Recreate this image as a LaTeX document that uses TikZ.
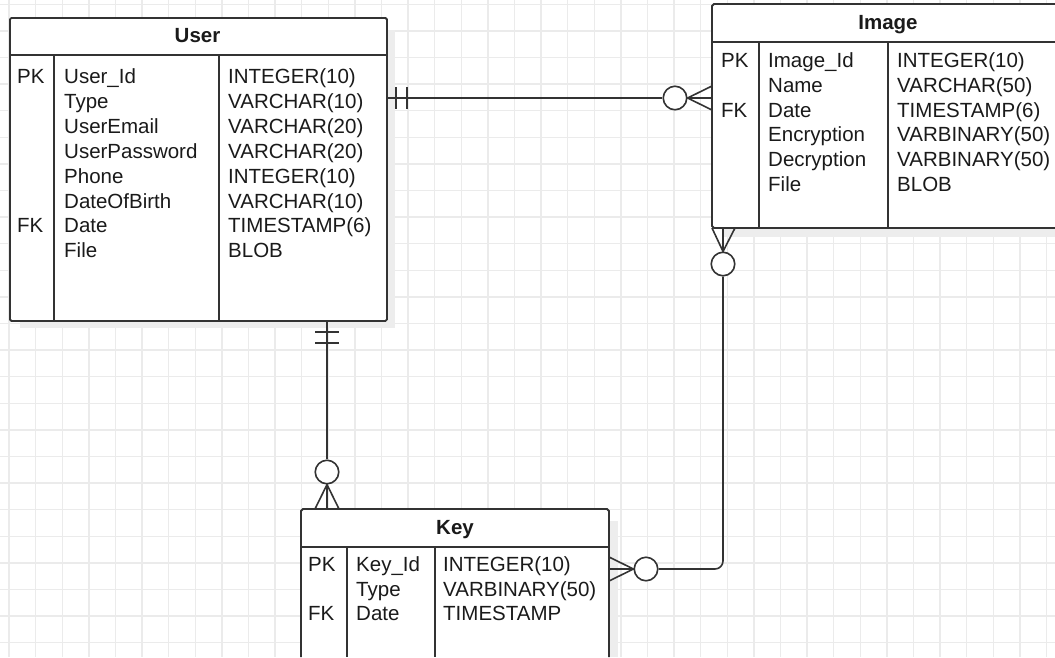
\documentclass[tikz,border=0pt]{standalone}
\usepackage{fontspec}
\setmainfont{Liberation Sans}
\definecolor{gridc}{HTML}{EBEBEB}
\definecolor{linec}{HTML}{333333}
\definecolor{txtc}{HTML}{1A1A1A}
\definecolor{shadowc}{HTML}{EDEDED}
\begin{document}
\begin{tikzpicture}[x=1pt,y=-1pt,
  gridl/.style={draw=gridc, line width=1.4pt},
  tbl/.style={draw=linec, line width=1.8pt, fill=white, rounded corners=1.5pt, inner sep=0pt, anchor=north west},
  tline/.style={draw=linec, line width=1.8pt},
  conn/.style={draw=linec, line width=1.6pt},
  ring/.style={circle, draw=linec, line width=1.6pt, fill=white, inner sep=0pt, minimum size=23.5pt},
  shadowfill/.style={fill=shadowc, draw=none},
  txt/.style={anchor=base west, inner sep=0pt, text=txtc, font=\fontsize{20.5}{24}\selectfont},
  ttl/.style={anchor=base, inner sep=0pt, text=txtc, font=\fontsize{20.5}{24}\selectfont\bfseries}]
\useasboundingbox[fill=white] (0,0) rectangle (1055,657);
% grid
\foreach \gi in {0,...,39} \draw[gridl] ({9+26.6*\gi},0) -- ({9+26.6*\gi},657);
\foreach \gj in {0,...,24} \draw[gridl] (0,{4.2+26.6*\gj}) -- (1055,{4.2+26.6*\gj});
% shadows
\fill[shadowfill] (20,30) rectangle (395,328);
\fill[shadowfill] (723,17) rectangle (1055,237);
\fill[shadowfill] (312,521) rectangle (618,657);
% ---------------- User table
\node[tbl, minimum width=377pt, minimum height=303pt] (user) at (9,17) {};
\draw[tline] (9,55) -- (386,55);
\draw[tline] (54,55) -- (54,320);
\draw[tline] (219,55) -- (219,320);
\node[ttl] (usert) at (197.5,42.5) {User};
\foreach \ka/\na/\ta [count=\ri] in {PK/User\_Id/INTEGER(10), /Type/VARCHAR(10), /UserEmail/VARCHAR(20), /UserPassword/VARCHAR(20), /Phone/INTEGER(10), /DateOfBirth/VARCHAR(10), FK/Date/TIMESTAMP(6), /File/BLOB}{
  \node[txt] (uk\ri) at (17,{83.5+24.9*(\ri-1)}) {\ka};
  \node[txt] (un\ri) at (64,{83.5+24.9*(\ri-1)}) {\na};
  \node[txt] (ut\ri) at (228,{83.5+24.9*(\ri-1)}) {\ta};
}
% ---------------- Image table (runs past the right edge)
\fill[white] (712,4) rectangle (1055,228);
\draw[tline] (1055,4) -- (714,4) -- (712,6) -- (712,226) -- (714,228) -- (1055,228);
\coordinate (imgw) at (712,116);
\coordinate (imgs) at (888,228);
\draw[tline] (712,42) -- (1055,42);
\draw[tline] (759,42) -- (759,228);
\draw[tline] (888,42) -- (888,228);
\node[ttl] (imgt) at (888,29.5) {Image};
\foreach \ka/\na/\ta [count=\ri] in {PK/Image\_Id/INTEGER(10), /Name/VARCHAR(50), FK/Date/TIMESTAMP(6), /Encryption/VARBINARY(50), /Decryption/VARBINARY(50), /File/BLOB}{
  \node[txt] (ik\ri) at (721,{67.5+24.8*(\ri-1)}) {\ka};
  \node[txt] (in\ri) at (768,{67.5+24.8*(\ri-1)}) {\na};
  \node[txt] (it\ri) at (897,{67.5+24.8*(\ri-1)}) {\ta};
}
% ---------------- Key table (runs past the bottom edge)
\fill[white] (301,509) rectangle (609,657);
\draw[tline] (301,657) -- (301,511) -- (303,509) -- (607,509) -- (609,511) -- (609,657);
\coordinate (keyn) at (455,509);
\coordinate (keye) at (609,583);
\draw[tline] (301,547) -- (609,547);
\draw[tline] (347,547) -- (347,657);
\draw[tline] (435,547) -- (435,657);
\node[ttl] (keyt) at (455,534.5) {Key};
\foreach \ka/\na/\ta [count=\ri] in {PK/Key\_Id/INTEGER(10), /Type/VARBINARY(50), FK/Date/TIMESTAMP}{
  \node[txt] (kk\ri) at (308,{571.5+24.5*(\ri-1)}) {\ka};
  \node[txt] (kn\ri) at (356,{571.5+24.5*(\ri-1)}) {\na};
  \node[txt] (kt\ri) at (443,{571.5+24.5*(\ri-1)}) {\ta};
}
% ---------------- User -- Image
\node[ring] (c1) at (675,98) {};
\draw[conn] (user.east |- c1) -- (c1.west);
\draw[conn] (396,87) -- (396,109);
\draw[conn] (407,87) -- (407,109);
\draw[conn] (712,86) -- (c1.east) -- (712,110);
\draw[conn] (c1.east) -- (imgw |- c1);
% ---------------- User -- Key
\node[ring] (c2) at (327,472) {};
\draw[conn] (c2 |- user.south) -- (c2.north);
\draw[conn] (315,332) -- (339,332);
\draw[conn] (315,343) -- (339,343);
\draw[conn] (315,509) -- (c2.south) -- (339,509);
\draw[conn] (c2.south) -- (c2 |- keyn);
% ---------------- Image -- Key
\node[ring] (c3) at (723,264) {};
\node[ring] (c4) at (646,569) {};
\draw[conn] (712,228) -- (c3.north) -- (735,228);
\draw[conn] (c3.north) -- (c3 |- imgs);
\draw[conn, rounded corners=8pt] (c3.south) |- (c4.east);
\draw[conn] (609,557) -- (c4.west) -- (609,581);
\draw[conn] (c4.west) -- (keye |- c4);
\end{tikzpicture}
\end{document}
